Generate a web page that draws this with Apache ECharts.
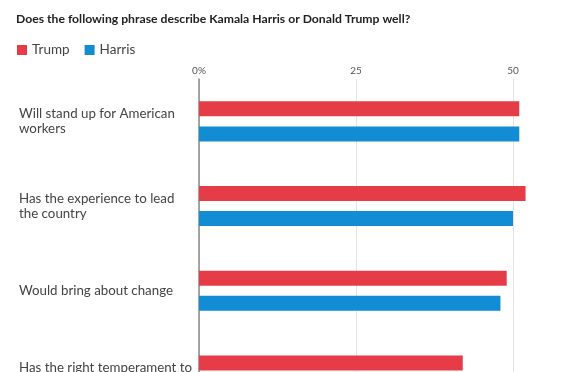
<!DOCTYPE html>
<html>
<head>
<meta charset="utf-8">
<style>
html,body{margin:0;padding:0;background:#fff;overflow:hidden;}
#c{width:575px;height:430px;}
</style>
<script src="https://cdn.jsdelivr.net/npm/echarts@6/dist/echarts.min.js"></script>
</head>
<body>
<div id="c"></div>
<script>
const categories = [
  "Will stand up for American\nworkers",
  "Has the experience to lead\nthe country",
  "Would bring about change",
  "Has the right temperament to\nbe president"
];
const trumpValues = [51, 52, 49, 42];
const harrisValues = [51, 50, 48, null];
const seriesNames = ["Trump", "Harris"];
const xTicks = [0, 25, 50];

const chart = echarts.init(document.getElementById('c'), null, {renderer: 'canvas'});
const FONT = 'Lato';
chart.setOption({
  animation: false,
  backgroundColor: '#fff',
  title: {
    text: 'Does the following phrase describe Kamala Harris or Donald Trump well?',
    left: 11, top: 8,
    textStyle: {fontFamily: FONT, fontSize: 12.2, fontWeight: 'bold', color: '#222'}
  },
  legend: {
    left: 12, top: 38,
    icon: 'rect', itemWidth: 10, itemHeight: 10, itemGap: 15,
    textStyle: {fontFamily: FONT, fontSize: 13.5, color: '#444'},
    data: seriesNames
  },
  grid: {left: 199, right: 30.6, top: 79, bottom: 12.2, containLabel: false},
  xAxis: {
    type: 'value', position: 'top', min: 0, max: 55, interval: 25,
    axisLine: {show: false}, axisTick: {show: false},
    axisLabel: {
      fontFamily: FONT, fontSize: 10, color: '#555', margin: 3,
      showMaxLabel: false,
      formatter: v => xTicks.indexOf(v) === -1 ? '' : (v === 0 ? '0%' : String(v))
    },
    splitLine: {show: true, showMaxLine: false, lineStyle: {color: '#e4e4e4', width: 1}}
  },
  yAxis: {
    type: 'category', inverse: true, data: categories,
    axisLine: {show: true, lineStyle: {color: '#8a8a8a', width: 1.5}},
    axisTick: {show: false},
    axisLabel: {
      align: 'left', margin: 180,
      fontFamily: FONT, fontSize: 13.3, color: '#444', lineHeight: 15
    }
  },
  series: [
    {name: seriesNames[0], type: 'bar', data: trumpValues, barWidth: 15, barGap: '67%',
     itemStyle: {color: '#e63c47'}},
    {name: seriesNames[1], type: 'bar', data: harrisValues, barWidth: 15, barGap: '67%',
     itemStyle: {color: '#128dd4'}}
  ]
});
</script>
</body>
</html>
